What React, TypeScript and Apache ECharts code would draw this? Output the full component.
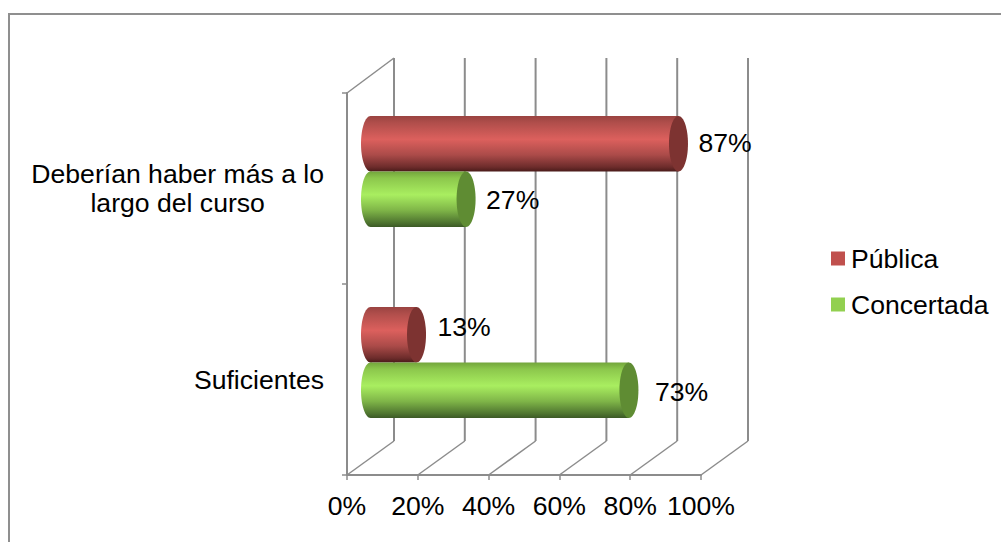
import React, { useEffect, useRef } from "react";
import * as echarts from "echarts";

const categories = ["Deberían haber más a lo\nlargo del curso", "Suficientes"];
const seriesNames = ["Pública", "Concertada"];
const publica = [87, 13];
const concertada = [27, 73];
const xTicks = [0, 20, 40, 60, 80, 100];

const FONT = "'Liberation Sans', Arial, sans-serif";
const FS = 26.6;
const GRID = { left: 347, top: 93, width: 354, height: 382 };
const DEPTH_X = 47;
const DEPTH_Y = 34;
const GRAY = "#8c8c8c";
const RED = "#C0504D";
const GREEN = "#92D050";

const skins: any = {
  Pública: {
    cap: "#7D3331",
    stops: [[0, "#9a4341"], [0.12, "#b04e4b"], [0.42, "#dc605d"], [0.7, "#ab4b49"], [0.92, "#6d2c2b"], [1, "#4a1b1a"]],
  },
  Concertada: {
    cap: "#5F8C33",
    stops: [[0, "#73a53c"], [0.12, "#8cc74c"], [0.42, "#a9ee60"], [0.7, "#7fb548"], [0.92, "#4f7530"], [1, "#3c5a26"]],
  },
};
// hand placement of the data labels, as in the reference: [dx, dy] by series and category
const labelNudge: any = {
  Pública: [[0, -1], [1, -8]],
  Concertada: [[0, 1], [6, 2]],
};

function cylinderSeries(name: string, values: number[], color: string, seriesIdx: number) {
  return {
    type: "custom",
    name,
    coordinateSystem: "cartesian2d",
    itemStyle: { color },
    z: 5,
    encode: { x: 0, y: 1 },
    data: values.map((v, i) => [v, i, i]),
    renderItem: (_p: any, api: any) => {
      const v = api.value(0);
      const i = api.value(2);
      const band = api.size([0, 1])[1];
      const h = band * 0.29;
      const start = api.coord([0, i]);
      const end = api.coord([v, i]);
      const dx = DEPTH_X / 2;
      const dy = -DEPTH_Y / 2;
      const cy = start[1] + dy + (seriesIdx === 0 ? -h / 2 : h / 2);
      const x0 = start[0] + dx;
      const x1 = end[0] + dx;
      const rx = 9.5;
      const skin = skins[name];
      const fill = new echarts.graphic.LinearGradient(
        0, 0, 0, 1,
        skin.stops.map((s: any) => ({ offset: s[0], color: s[1] }))
      );
      const nudge = labelNudge[name][i];
      return {
        type: "group",
        children: [
          { type: "ellipse", shape: { cx: x0, cy, rx, ry: h / 2 }, style: { fill } },
          { type: "rect", shape: { x: x0, y: cy - h / 2, width: x1 - x0, height: h }, style: { fill } },
          { type: "ellipse", shape: { cx: x1, cy, rx, ry: h / 2 }, style: { fill: skin.cap } },
          {
            type: "text",
            style: {
              x: x1 + 20 + nudge[0],
              y: cy + nudge[1],
              text: v + "%",
              fill: "#000",
              font: `${FS}px ${FONT}`,
              align: "left",
              verticalAlign: "middle",
            },
          },
        ],
      };
    },
  };
}

const wallSeries = {
  type: "custom",
  coordinateSystem: "cartesian2d",
  silent: true,
  z: 1,
  data: xTicks.map((t) => [t, 0]),
  encode: { x: 0, y: 1 },
  renderItem: (_p: any, api: any) => {
    const t = api.value(0);
    const size = api.size([0, 1])[1];
    const top = api.coord([t, 0])[1] - size / 2;
    const bottom = top + 2 * size;
    const x = api.coord([t, 0])[0];
    const lineStyle = { stroke: GRAY, lineWidth: 2 };
    const children: any[] = [
      { type: "line", shape: { x1: x + DEPTH_X, y1: top - DEPTH_Y - 1, x2: x + DEPTH_X, y2: bottom - DEPTH_Y }, style: lineStyle },
      { type: "line", shape: { x1: x, y1: bottom, x2: x + DEPTH_X, y2: bottom - DEPTH_Y }, style: { stroke: GRAY, lineWidth: 1.5 } },
    ];
    if (t === 0) {
      children.push({ type: "line", shape: { x1: x, y1: top, x2: x + DEPTH_X, y2: top - DEPTH_Y - 1 }, style: { stroke: GRAY, lineWidth: 1.5 } });
    }
    return { type: "group", children };
  },
};

export default function App() {
  const ref = useRef<HTMLDivElement>(null);
  useEffect(() => {
    const chart = echarts.init(ref.current!, undefined, { renderer: "svg" });
    chart.setOption({
      animation: false,
      backgroundColor: "#ffffff",
      textStyle: { fontFamily: FONT },
      grid: GRID,
      legend: {
        orient: "vertical",
        left: 831,
        top: 245,
        padding: 0,
        itemWidth: 14,
        itemHeight: 14,
        itemGap: 19,
        icon: "rect",
        data: seriesNames,
        selectedMode: false,
        textStyle: { fontSize: FS, fontFamily: FONT, color: "#000", padding: [0, 0, 0, 1] },
      },
      xAxis: {
        type: "value",
        min: 0,
        max: 100,
        interval: 20,
        splitLine: { show: false },
        axisLine: { show: true, lineStyle: { color: GRAY, width: 2 } },
        axisTick: { show: true, length: 5, lineStyle: { color: GRAY, width: 1.5 } },
        axisLabel: {
          formatter: "{value}%",
          margin: 17,
          fontSize: FS,
          fontFamily: FONT,
          color: "#000",
          hideOverlap: false,
        },
      },
      yAxis: {
        type: "category",
        inverse: true,
        data: categories,
        axisLine: { show: true, lineStyle: { color: GRAY, width: 2 } },
        axisTick: { show: true, length: 5, lineStyle: { color: GRAY, width: 1.5 } },
        axisLabel: {
          margin: 23,
          color: "#000",
          fontSize: FS,
          fontFamily: FONT,
          lineHeight: 29,
          align: "right",
          formatter: (value: string) =>
            value.split("\n").map((l) => `{c|${l}}`).join("\n"),
          rich: { c: { fontSize: FS, fontFamily: FONT, color: "#000", lineHeight: 29, align: "center" } },
        },
      },
      graphic: [
        {
          type: "polyline",
          silent: true,
          shape: { points: [[9, 542], [9, 14], [1001, 14]] },
          style: { stroke: "#8f8f8f", lineWidth: 2, fill: "none" },
        },
      ],
      series: [
        wallSeries,
        cylinderSeries(seriesNames[0], publica, RED, 0),
        cylinderSeries(seriesNames[1], concertada, GREEN, 1),
      ],
    });
    return () => chart.dispose();
  }, []);
  return <div ref={ref} style={{ position: "fixed", left: 0, top: 0, width: 1001, height: 542 }} />;
}
